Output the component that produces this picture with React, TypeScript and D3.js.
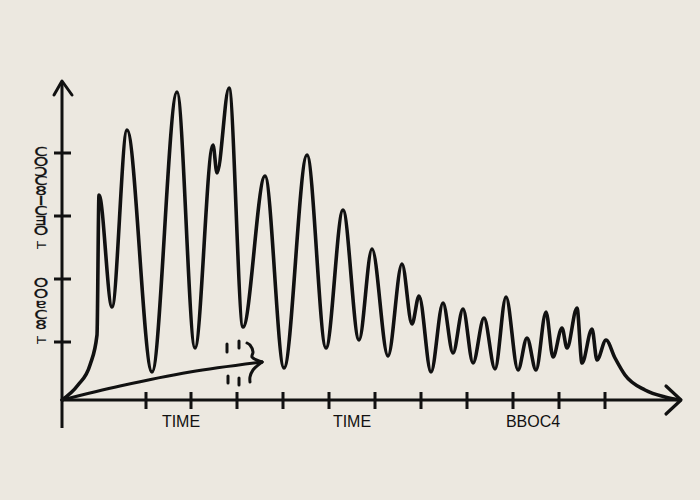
import React, { useEffect } from "react";
import * as d3 from "d3";

// signal samples (time units, amplitude units)
const timeValues = [0, 1.6, 2.8, 3.5, 3.7, 5.0, 6.5, 9.0, 11.5, 13.3, 15.1, 15.5, 16.7, 18.1, 20.3, 22.2, 24.5, 26.4, 28.1, 29.7, 31.0, 32.6, 34.0, 35.0, 35.7, 36.9, 38.1, 39.1, 40.1, 41.1, 42.2, 43.3, 44.4, 45.6, 46.5, 47.4, 48.4, 49.1, 50.0, 50.5, 51.5, 52.0, 53.0, 53.5, 54.4, 55.3, 56.3, 58.3, 60.3, 61.8];
const amplitudeValues = [0, 1.5, 3.5, 6.5, 20.5, 9.3, 27.0, 2.8, 30.8, 5.2, 25.5, 22.7, 31.2, 7.3, 22.4, 3.2, 24.5, 5.2, 19.0, 6.0, 15.1, 4.4, 13.6, 7.6, 10.4, 2.8, 9.7, 4.7, 9.1, 3.7, 8.2, 3.1, 10.3, 3.0, 6.2, 3.0, 8.8, 4.3, 7.2, 5.2, 9.2, 3.7, 7.1, 4.0, 6.0, 4.2, 2.5, 1.0, 0.3, 0.0];

// trend arrow from origin
const trendTime = [0, 5.8, 12.8, 20.0];
const trendValue = [0, 1.4, 2.8, 3.8];

const yTicks = [24.7, 18.4, 12.1, 5.8];
const xTicks = [8.4, 12.9, 17.5, 22.1, 26.7, 31.3, 35.9, 40.5, 45.1, 49.7, 54.3];
const xLabels = ["TIME", "TIME", "BBOC4"];
const xLabelPos = [11.9, 29.0, 47.1];
const yLabels = ["COƆC8ICƎO", "OOɐC8"];
const yLabelPos = [20.9, 9.6];
const yLabelLen = [94, 57];
const yLabelEndPos = [15.5, 6.0];

const W = 700, H = 500;
const INK = "#111111";
const SY = 0.75;

export default function App() {
  useEffect(() => {
    document.body.style.margin = "0";
    document.body.style.background = "#ece8e0";
  }, []);

  const x = d3.scaleLinear().domain([0, 62]).range([62, 682]);
  const y = d3.scaleLinear().domain([0, 32]).range([400, 80]);

  const pts: [number, number][] = timeValues.map((t, i) => [x(t), y(amplitudeValues[i])]);
  const line = d3.line<[number, number]>().curve(d3.curveMonotoneX);
  const trend: [number, number][] = trendTime.map((t, i) => [x(t), y(trendValue[i])]);
  const trendLine = d3.line<[number, number]>().curve(d3.curveCatmullRom);

  const tip = trend[trend.length - 1];
  const upperArm = d3.line<[number, number]>().curve(d3.curveCatmullRom)([
    tip, [x(19.0), y(4.3)], [x(19.1), y(4.8)], [x(18.8), y(5.5)], [x(18.5), y(5.7)],
  ]);
  const lowerArm = d3.line<[number, number]>().curve(d3.curveCatmullRom)([
    tip, [x(19.1), y(3.0)], [x(18.8), y(2.3)], [x(18.8), y(1.8)],
  ]);
  const dashes: [number, number, number][] = [
    [16.5, 5.6, 4.8], [17.7, 5.9, 5.2], [16.6, 2.4, 1.7], [17.7, 2.2, 1.5],
  ];

  const y0 = y(0);
  const x0 = x(0);

  return (
    <svg width={W} height={H} style={{ display: "block" }}>
      <rect width={W} height={H} fill="#ece8e0" />
      {/* axes */}
      <line x1={x0} x2={x0} y1={y(31.8)} y2={y(-2.8)} stroke={INK} strokeWidth={3} />
      <line x1={x0} x2={x(61.9)} y1={y0} y2={y0} stroke={INK} strokeWidth={3} />
      <path d={`M${x0 - 8},${y(30.5)} L${x0},${y(31.9)} L${x0 + 10},${y(30.5)}`} fill="none" stroke={INK} strokeWidth={3} strokeLinecap="round" strokeLinejoin="round" />
      <path d={`M${x(60.4)},${y0 - 14} L${x(61.9)},${y0} L${x(60.4)},${y0 + 14}`} fill="none" stroke={INK} strokeWidth={3.2} strokeLinecap="round" strokeLinejoin="round" />
      {yTicks.map((v, i) => (
        <line key={"yt" + i} x1={x0 - 8} x2={x0 + 9} y1={y(v)} y2={y(v)} stroke={INK} strokeWidth={3} />
      ))}
      {xTicks.map((v, i) => (
        <line key={"xt" + i} x1={x(v)} x2={x(v)} y1={y0 - 8} y2={y0 + 9} stroke={INK} strokeWidth={3} />
      ))}
      {xLabels.map((s, i) => (
        <text key={"xl" + i} x={x(xLabelPos[i])} y={427} textAnchor="middle" fontFamily="Liberation Sans, Arial, sans-serif" fontSize={16} fill={INK}>{s}</text>
      ))}
      {yLabels.map((s, i) => (
        <g key={"yl" + i} transform={`translate(41,${y(yLabelPos[i])}) scale(1.12,${SY})`}>
          <text x={0} y={0} textAnchor="middle"
            textLength={yLabelLen[i] / SY} lengthAdjust="spacing"
            style={{ writingMode: "vertical-rl", textOrientation: "upright" } as any}
            fontFamily="DejaVu Sans, sans-serif" fontSize={17} fill={INK}
            stroke={INK} strokeWidth={0.35}>{s}</text>
        </g>
      ))}
      {yLabelEndPos.map((v, i) => (
        <text key={"ye" + i} transform={`translate(41,${y(v)}) rotate(-90)`} textAnchor="middle" dominantBaseline="central"
          fontFamily="DejaVu Sans, sans-serif" fontSize={13} fill={INK}>T</text>
      ))}
      {/* trend arrow */}
      <path d={trendLine(trend) || ""} fill="none" stroke={INK} strokeWidth={3} strokeLinecap="round" />
      <path d={upperArm || ""} fill="none" stroke={INK} strokeWidth={3} strokeLinecap="round" />
      <path d={lowerArm || ""} fill="none" stroke={INK} strokeWidth={3} strokeLinecap="round" />
      {dashes.map((d, i) => (
        <line key={"d" + i} x1={x(d[0])} x2={x(d[0])} y1={y(d[1])} y2={y(d[2])} stroke={INK} strokeWidth={3} strokeLinecap="round" />
      ))}
      {/* signal */}
      <path d={line(pts) || ""} fill="none" stroke={INK} strokeWidth={3.6} strokeLinejoin="round" strokeLinecap="round" />
    </svg>
  );
}
